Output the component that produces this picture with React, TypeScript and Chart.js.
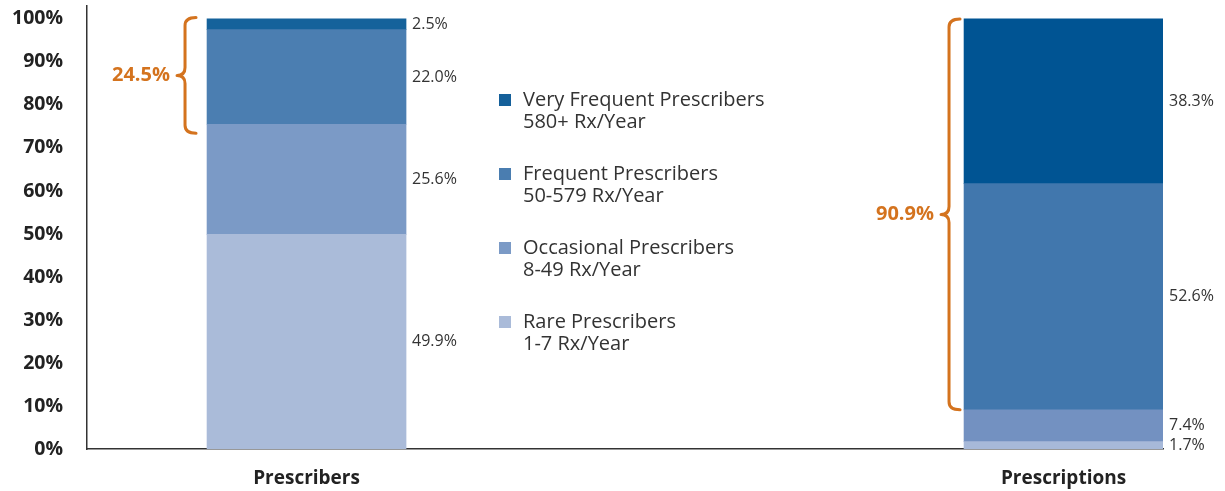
import React, { useEffect, useRef } from 'react';
import { Chart, registerables } from 'chart.js';

Chart.register(...registerables);

// ---- data ----
const categories = ['Prescribers', 'Prescriptions'];
const seriesNames = ['Rare Prescribers', 'Occasional Prescribers', 'Frequent Prescribers', 'Very Frequent Prescribers'];
const seriesSubtitles = ['1-7 Rx/Year', '8-49 Rx/Year', '50-579 Rx/Year', '580+ Rx/Year'];
const rareValues = [49.9, 1.7];
const occasionalValues = [25.6, 7.4];
const frequentValues = [22.0, 52.6];
const veryFrequentValues = [2.5, 38.3];
const yTickValues = [0, 10, 20, 30, 40, 50, 60, 70, 80, 90, 100];
const braceLabels = ['24.5%', '90.9%'];
const braceLow = [73.4, 9.1];
const braceHigh = [100.3, 100];

// ---- styles ----
const FONT = '"Open Sans", Lato, sans-serif';
const TEXT = '#333333';
const ORANGE = '#D4731E';
const rareColors = ['#AABBD9', '#A7B9D9'];
const occasionalColors = ['#7B9AC6', '#7391C1'];
const frequentColors = ['#4B7EB1', '#4177AD'];
const veryFrequentColors = ['#15629B', '#005493'];
const legendColors = ['#AABBD9', '#7B9AC6', '#4A7DB0', '#15609A'];
const braceStemOffset = [-22, -15];

function drawBrace(ctx: CanvasRenderingContext2D, xs: number, yTop: number, yBot: number) {
  const r = 8;
  const tip = 8;
  const end = 11;
  const yMid = (yTop + yBot) / 2;
  ctx.beginPath();
  ctx.moveTo(xs + end, yTop);
  ctx.quadraticCurveTo(xs, yTop, xs, yTop + r);
  ctx.lineTo(xs, yMid - r);
  ctx.quadraticCurveTo(xs, yMid, xs - tip, yMid);
  ctx.quadraticCurveTo(xs, yMid, xs, yMid + r);
  ctx.lineTo(xs, yBot - r);
  ctx.quadraticCurveTo(xs, yBot, xs + end, yBot);
  ctx.stroke();
}

const overlayPlugin = {
  id: 'overlay',
  afterDatasetsDraw(chart: any) {
    const ctx: CanvasRenderingContext2D = chart.ctx;
    const yScale = chart.scales.y;
    ctx.save();
    // value labels
    ctx.font = `16px ${FONT}`;
    ctx.fillStyle = TEXT;
    ctx.textAlign = 'left';
    ctx.textBaseline = 'middle';
    chart.data.datasets.forEach((ds: any, di: number) => {
      const meta = chart.getDatasetMeta(di);
      meta.data.forEach((el: any, i: number) => {
        const v = ds.data[i].y;
        const x = el.x + el.width / 2 + 6;
        const y = (el.y + el.base) / 2;
        ctx.fillText(v.toFixed(1) + '%', x, y);
      });
    });
    // braces
    const meta0 = chart.getDatasetMeta(0);
    categories.forEach((_, i) => {
      const el = meta0.data[i];
      const left = el.x - el.width / 2;
      const xs = left + braceStemOffset[i];
      const yTop = yScale.getPixelForValue(braceHigh[i]);
      const yBot = yScale.getPixelForValue(braceLow[i]);
      ctx.strokeStyle = ORANGE;
      ctx.lineWidth = 3;
      ctx.lineCap = 'round';
      ctx.lineJoin = 'round';
      drawBrace(ctx, xs, yTop, yBot);
      ctx.font = `bold 20px ${FONT}`;
      ctx.fillStyle = ORANGE;
      ctx.textAlign = 'right';
      ctx.textBaseline = 'middle';
      ctx.fillText(braceLabels[i], xs - 15, (yTop + yBot) / 2);
    });
    // legend (top to bottom: very frequent first)
    const lx = 499;
    const ly = 100;
    const rowGap = 74;
    for (let k = 0; k < seriesNames.length; k++) {
      const si = seriesNames.length - 1 - k;
      const y = ly + k * rowGap;
      ctx.fillStyle = legendColors[si];
      ctx.fillRect(lx, y - 6, 12, 12);
      ctx.fillStyle = TEXT;
      ctx.font = `20px ${FONT}`;
      ctx.textAlign = 'left';
      ctx.textBaseline = 'middle';
      ctx.fillText(seriesNames[si], lx + 24, y);
      ctx.fillText(seriesSubtitles[si], lx + 24, y + 22);
    }
    ctx.restore();
  },
};

export default function App() {
  const ref = useRef<HTMLCanvasElement>(null);
  useEffect(() => {
    document.body.style.margin = '0';
    const canvas = ref.current!;
    const mk = (label: string, values: number[], colors: string[]) => ({
      label,
      data: values.map((v, i) => ({ x: i, y: v })),
      backgroundColor: colors,
      borderWidth: 0,
      barThickness: 199,
    });
    const chart = new Chart(canvas, {
      type: 'bar',
      data: {
        datasets: [
          mk(seriesNames[0], rareValues, rareColors),
          mk(seriesNames[1], occasionalValues, occasionalColors),
          mk(seriesNames[2], frequentValues, frequentColors),
          mk(seriesNames[3], veryFrequentValues, veryFrequentColors),
        ] as any,
      },
      options: {
        animation: false,
        responsive: false,
        maintainAspectRatio: false,
        layout: { padding: { top: 6, right: 62, left: 0, bottom: 0 } },
        plugins: { legend: { display: false }, tooltip: { enabled: false } },
        scales: {
          x: {
            type: 'linear',
            stacked: true,
            offset: false,
            bounds: 'data',
            min: -0.29,
            max: 1.1314,
            grid: { display: false, drawTicks: false, offset: false },
            border: { display: true, color: '#333333', width: 1.5 },
            ticks: {
              padding: 18,
              maxRotation: 0,
              autoSkip: false,
              color: '#222222',
              font: { family: FONT, size: 19, weight: 'bold' },
              callback: (v: any) => categories[v] ?? '',
            },
            afterBuildTicks: (s: any) => {
              s.ticks = categories.map((_, i) => ({ value: i }));
            },
            afterFit: (s: any) => {
              s.height = 42;
              s.paddingLeft = 0;
              s.paddingRight = 0;
            },
          } as any,
          y: {
            stacked: true,
            min: 0,
            max: 103,
            grid: { display: false, drawTicks: false },
            border: { display: true, color: '#333333', width: 1.5 },
            ticks: {
              padding: 24,
              color: '#222222',
              font: { family: FONT, size: 19.5, weight: 'bold' },
              callback: (v: any) => v + '%',
            },
            afterBuildTicks: (s: any) => {
              s.ticks = yTickValues.map((v) => ({ value: v }));
            },
            afterFit: (s: any) => {
              s.width = 87;
              s.paddingTop = 0;
              s.paddingBottom = 0;
            },
          } as any,
        },
      },
      plugins: [overlayPlugin],
    });
    return () => chart.destroy();
  }, []);
  return <canvas ref={ref} width={1225} height={491} style={{ display: 'block' }} />;
}
